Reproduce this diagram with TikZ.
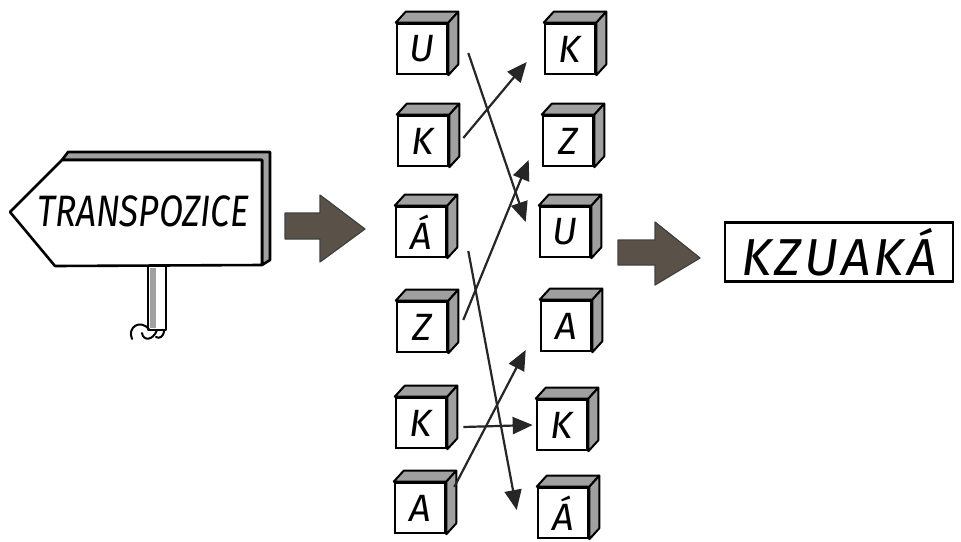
\documentclass[tikz,border=0pt]{standalone}
\usepackage{fontspec}
\setmainfont{Fira Sans}
\usetikzlibrary{arrows.meta,calc}
\definecolor{arrowbrown}{HTML}{5A5249}
\definecolor{shadegray}{HTML}{A0A0A0}

% one letter block: front face as a named node, top and side faces behind it
\newcommand\lettercube[4]{%
  \node[cube] (#1) at (#2,#3) {#4};
  \filldraw[cubeshade] (#1.north west) -- ++(10,-11) -- ($(#1.north east)+(10,-11)$) -- (#1.north east) -- cycle;
  \filldraw[cubeshade] (#1.north east) -- ++(10,-11) -- ($(#1.south east)+(10,-11)$) -- (#1.south east) -- cycle;
}

\begin{document}
\begin{tikzpicture}[x=1pt,y=-1pt,
  cube/.style={draw=black, line width=2.6pt, fill=white, minimum width=50pt, minimum height=50pt,
    inner sep=0pt, font=\fontsize{38}{38}\selectfont\itshape},
  cubeshade/.style={draw=black, line width=2pt, fill=shadegray, line join=round},
  link/.style={line width=2.2pt, draw=black!85, -{Triangle[length=20pt,width=17pt]}},
  fat/.style={fill=arrowbrown, draw=black!75, line width=1.2pt, line join=round},
  sign/.style={draw=black, line width=2.6pt, line join=round},
]
\useasboundingbox (0,0) rectangle (961,541);

% signpost
\filldraw[sign, fill=shadegray] (62,160) -- (68,152) -- (270,152) -- (270,260) -- (262,265) -- (262,160) -- cycle;
\filldraw[sign, fill=white] (10,212) -- (62,160) -- (262,160) -- (262,265) -- (55,266) -- cycle;
\filldraw[sign, fill=white] (148,266) rectangle (166,330);
\fill[shadegray] (150,268) rectangle (156,328);
\draw[line width=2pt, line cap=round] (149,329) .. controls (140,319) and (127,327) .. (132,339);
\draw[line width=2pt, line cap=round] (157,330) .. controls (153,341) and (143,341) .. (142,333);
\draw[line width=2pt, line cap=round] (164,330) .. controls (164,337) and (159,339) .. (156,337);
\node[font=\fontsize{44}{44}\selectfont\itshape, inner sep=0pt] (signtext) at (143,211)
  {\scalebox{0.8}[1]{TRANSPOZICE}};

% block arrows
\filldraw[fat] (285,213) -- (320,213) -- (320,195) -- (365,229) -- (320,262) -- (320,239) -- (285,239) -- cycle;
\filldraw[fat] (618,240) -- (655,240) -- (655,222) -- (700,258) -- (655,285) -- (655,265) -- (618,265) -- cycle;

% letter blocks, left column
\lettercube{L1}{422}{49}{U}
\lettercube{L2}{423}{141}{K}
\lettercube{L3}{421}{232}{Á}
\lettercube{L4}{422}{327}{Z}
\lettercube{L5}{421}{423}{K}
\lettercube{L6}{420}{508}{A}

% letter blocks, right column
\lettercube{R1}{570}{49}{K}
\lettercube{R2}{568}{141}{Z}
\lettercube{R3}{565}{232}{U}
\lettercube{R4}{566}{326}{A}
\lettercube{R5}{562}{425}{K}
\lettercube{R6}{563}{513}{Á}

% result word
\node[draw=black, line width=2.6pt, minimum width=228pt, minimum height=59pt, inner sep=0pt,
  font=\fontsize{52}{52}\selectfont\itshape\addfontfeatures{LetterSpace=6}] (word) at (839,252) {KZUAKÁ};

% where each letter moves
\draw[link] ($(L1.east)+(20,4)$) -- ($(R3.west)+(-13,-10)$);
\draw[link] ($(L2.east)+(14,-3)$) -- ($(R1.west)+(-17,13)$);
\draw[link] ($(L3.east)+(21,19)$) -- ($(R6.west)+(-20,-3)$);
\draw[link] ($(L4.east)+(15,-7)$) -- ($(R2.west)+(-13,19)$);
\draw[link] ($(L5.east)+(16,4)$) -- ($(R5.west)+(-3,0)$);
\draw[link] ($(L6.east)+(8,-21)$) -- ($(R4.west)+(-14,24)$);
\end{tikzpicture}
\end{document}
